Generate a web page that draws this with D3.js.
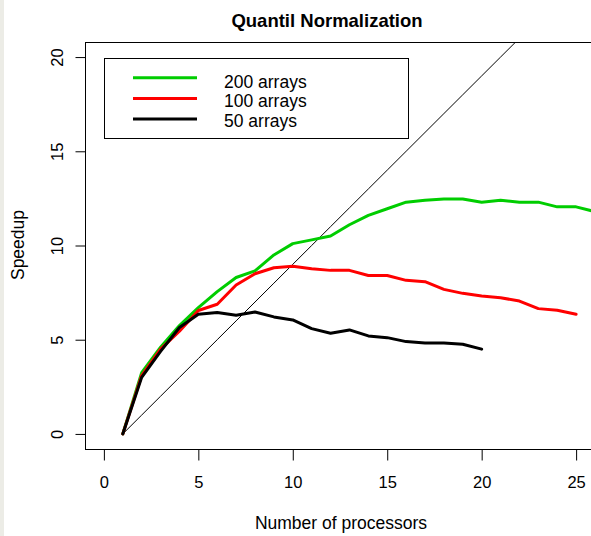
<!DOCTYPE html>
<html>
<head>
<meta charset="utf-8">
<script src="https://cdn.jsdelivr.net/npm/d3@7"></script>
<style>
  body { margin: 0; background: #fff; }
  svg { display: block; font-family: "Liberation Sans", Arial, sans-serif; }
</style>
</head>
<body>
<script>
let w = 591;
let h = 536;

// data
let procs = [1, 2, 3, 4, 5, 6, 7, 8, 9, 10, 11, 12, 13, 14, 15, 16, 17, 18, 19, 20, 21, 22, 23, 24, 25, 26];
let ideal = [0, 1, 2, 3, 4, 5, 6, 7, 8, 9, 10, 11, 12, 13, 14, 15, 16, 17, 18, 19, 20, 21, 22, 23, 24, 25];
let arrays200 = [0, 3.25, 4.6, 5.75, 6.7, 7.55, 8.3, 8.65, 9.5, 10.1, 10.3, 10.5, 11.1, 11.6, 11.95, 12.3, 12.4, 12.47, 12.47, 12.3, 12.4, 12.3, 12.3, 12.05, 12.05, 11.8];
let arrays100 = [0, 3.1, 4.5, 5.45, 6.55, 6.88, 7.9, 8.5, 8.82, 8.9, 8.77, 8.68, 8.68, 8.41, 8.41, 8.15, 8.08, 7.67, 7.46, 7.32, 7.23, 7.05, 6.65, 6.56, 6.35];
let arrays50 = [0, 3.0, 4.38, 5.65, 6.35, 6.44, 6.3, 6.47, 6.21, 6.05, 5.59, 5.34, 5.52, 5.2, 5.11, 4.9, 4.83, 4.83, 4.76, 4.5];

let xTicks = [0, 5, 10, 15, 20, 25];
let yTicks = [0, 5, 10, 15, 20];

let seriesNames = ["200 arrays", "100 arrays", "50 arrays"];
let seriesColors = ["#00cd00", "#ff0000", "#000000"];

let box = { left: 85, top: 42, right: 595, bottom: 449 };

let xScale = d3.scaleLinear().domain([-1, 26]).range([box.left, box.right]);
let yScale = d3.scaleLinear().domain([-0.8, 20.8]).range([box.bottom, box.top]);

let svg = d3.select("body")
  .append("svg")
  .attr("width", w)
  .attr("height", h);

// grey strip on the left edge
svg.append("rect")
  .attr("x", 0).attr("y", 0)
  .attr("width", 4).attr("height", h)
  .attr("fill", "#ecece6");

let toPoints = (vals) => vals.map((v, i) => [procs[i], v]);

let line = d3.line()
  .x((d) => xScale(d[0]))
  .y((d) => yScale(d[1]));

svg.append("clipPath").attr("id", "plotclip")
  .append("rect")
  .attr("x", box.left).attr("y", box.top)
  .attr("width", box.right - box.left).attr("height", box.bottom - box.top);

let plot = svg.append("g").attr("clip-path", "url(#plotclip)");

// ideal speedup
plot.append("path")
  .attr("d", line(toPoints(ideal)))
  .attr("fill", "none")
  .attr("stroke", "#000")
  .attr("stroke-width", 1);

let series = [arrays200, arrays100, arrays50];
series.forEach((vals, i) => {
  plot.append("path")
    .attr("d", line(toPoints(vals)))
    .attr("fill", "none")
    .attr("stroke", seriesColors[i])
    .attr("stroke-width", 3)
    .attr("stroke-linejoin", "round")
    .attr("stroke-linecap", "round");
});

// box
svg.append("rect")
  .attr("x", box.left + 0.5).attr("y", box.top + 0.5)
  .attr("width", box.right - box.left).attr("height", box.bottom - box.top)
  .attr("fill", "none")
  .attr("stroke", "#000")
  .attr("stroke-width", 1);

// axes
let xAxis = d3.axisBottom(xScale)
  .tickValues(xTicks)
  .tickSize(11)
  .tickPadding(16)
  .tickSizeOuter(0);

let yAxis = d3.axisLeft(yScale)
  .tickValues(yTicks)
  .tickSize(10)
  .tickSizeOuter(0);

let gx = svg.append("g")
  .attr("transform", "translate(0," + (box.bottom + 0.5) + ")")
  .call(xAxis);
gx.select(".domain").remove();
gx.selectAll("text").attr("font-size", 16.5).attr("fill", "#000")
  .attr("font-family", "Liberation Sans, Arial, sans-serif");
gx.selectAll("line").attr("stroke", "#000");

let gy = svg.append("g")
  .attr("transform", "translate(" + (box.left + 0.5) + ",0)")
  .call(yAxis);
gy.select(".domain").remove();
gy.selectAll("line").attr("stroke", "#000");
gy.selectAll("text")
  .attr("font-size", 16.5).attr("fill", "#000")
  .attr("font-family", "Liberation Sans, Arial, sans-serif")
  .attr("text-anchor", "middle")
  .attr("x", 0)
  .attr("transform", "translate(-28,0) rotate(-90)")
  .attr("dy", "0.35em");

// titles
svg.append("text")
  .attr("x", 327).attr("y", 26.5)
  .attr("text-anchor", "middle")
  .attr("font-size", 18.5).attr("font-weight", "bold")
  .text("Quantil Normalization");

svg.append("text")
  .attr("x", 341).attr("y", 529)
  .attr("text-anchor", "middle")
  .attr("font-size", 17.5)
  .text("Number of processors");

svg.append("text")
  .attr("transform", "translate(24,245) rotate(-90)")
  .attr("text-anchor", "middle")
  .attr("font-size", 17.5)
  .text("Speedup");

// legend
let legend = svg.append("g");
legend.append("rect")
  .attr("x", 104.5).attr("y", 58.5)
  .attr("width", 304).attr("height", 80)
  .attr("fill", "#fff")
  .attr("stroke", "#000");

seriesNames.forEach((name, i) => {
  let ly = 77.7 + i * 20.7;
  legend.append("line")
    .attr("x1", 133).attr("x2", 197)
    .attr("y1", ly).attr("y2", ly)
    .attr("stroke", seriesColors[i])
    .attr("stroke-width", 3);
  legend.append("text")
    .attr("x", 224).attr("y", 87.5 + i * 19.7)
    .attr("font-size", 17.5)
    .text(name);
});
</script>
</body>
</html>
